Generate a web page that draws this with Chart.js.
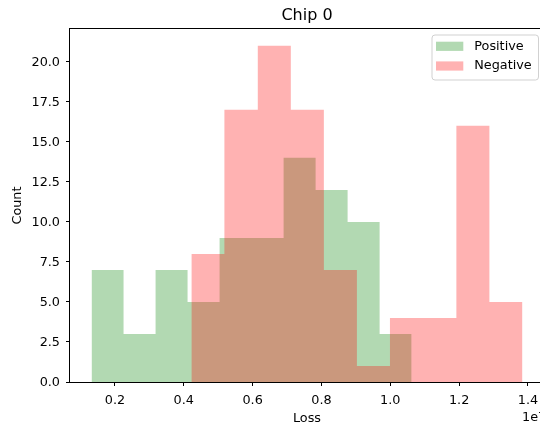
<!DOCTYPE html>
<html>
<head>
<meta charset="utf-8">
<script src="https://cdn.jsdelivr.net/npm/chart.js@4/dist/chart.umd.min.js"></script>
<style>
  html, body { margin: 0; padding: 0; background: #fff; overflow: hidden; width: 540px; height: 426px; }
  #wrap { position: absolute; left: 0; top: 0; width: 560px; height: 426px; }
</style>
</head>
<body>
<div id="wrap"><canvas id="c" width="560" height="426"></canvas></div>
<script>
// ---- data (values in units of 1e7) ----
const chartTitle = 'Chip 0';
const xLabel = 'Loss';
const yLabel = 'Count';
const xOffsetText = '1e7';
const seriesNames = ['Positive', 'Negative'];

const posEdges = [0.132, 0.225, 0.318, 0.411, 0.504, 0.597, 0.690, 0.783, 0.876, 0.969, 1.062];
const posCounts = [7, 3, 7, 5, 9, 9, 14, 12, 10, 3];

const negEdges = [0.422, 0.518, 0.615, 0.711, 0.807, 0.903, 0.999, 1.095, 1.192, 1.288, 1.384];
const negCounts = [8, 17, 21, 17, 7, 1, 4, 4, 16, 5];

const xMin = 0.0694, xMax = 1.4466;
const yMax = 22.05;
const xTickStep = 0.2;
const yTickStep = 2.5;

// histogram outline points: each bin holds its count until the next edge
function histPoints(edges, counts) {
  const pts = counts.map((c, i) => ({ x: edges[i], y: c }));
  pts.push({ x: edges[edges.length - 1], y: counts[counts.length - 1] });
  return pts;
}

const FONT = 'DejaVu Sans';
Chart.defaults.font.family = FONT;
Chart.defaults.color = '#000';

const framePlugin = {
  id: 'mplFrame',
  afterDraw(chart) {
    const { ctx, chartArea: a } = chart;
    ctx.save();
    // spines
    ctx.strokeStyle = '#000';
    ctx.lineWidth = 1;
    ctx.strokeRect(a.left - 0.5, a.top - 0.5, a.right - a.left + 1, a.bottom - a.top + 1);
    // title
    ctx.fillStyle = '#000';
    ctx.font = '16px "' + FONT + '"';
    ctx.textAlign = 'center';
    ctx.textBaseline = 'alphabetic';
    ctx.fillText(chartTitle, (a.left + a.right) / 2, 19.5);
    // offset text
    ctx.font = '12.8px "' + FONT + '"';
    ctx.textAlign = 'left';
    ctx.textBaseline = 'middle';
    ctx.fillText(xOffsetText, 522, 417.5);
    // legend (upper right, inside axes)
    const bx = 432, by = 35, bw = 106.5, bh = 45, r = 3;
    ctx.beginPath();
    ctx.moveTo(bx + r, by);
    ctx.lineTo(bx + bw - r, by);
    ctx.arcTo(bx + bw, by, bx + bw, by + r, r);
    ctx.lineTo(bx + bw, by + bh - r);
    ctx.arcTo(bx + bw, by + bh, bx + bw - r, by + bh, r);
    ctx.lineTo(bx + r, by + bh);
    ctx.arcTo(bx, by + bh, bx, by + bh - r, r);
    ctx.lineTo(bx, by + r);
    ctx.arcTo(bx, by, bx + r, by, r);
    ctx.closePath();
    ctx.fillStyle = 'rgba(255,255,255,0.8)';
    ctx.fill();
    ctx.strokeStyle = 'rgba(204,204,204,0.9)';
    ctx.lineWidth = 1;
    ctx.stroke();
    const rows = [46.3, 66];
    chart.data.datasets.forEach((ds, i) => {
      const cy = rows[i];
      ctx.fillStyle = ds.backgroundColor;
      ctx.fillRect(436, cy - 4.6, 27.3, 9.2);
      ctx.fillStyle = '#000';
      ctx.font = '12.8px "' + FONT + '"';
      ctx.textAlign = 'left';
      ctx.textBaseline = 'middle';
      ctx.fillText(ds.label, 474.3, cy);
    });
    ctx.restore();
  }
};

new Chart(document.getElementById('c'), {
  type: 'line',
  data: {
    datasets: [
      {
        label: seriesNames[0],
        data: histPoints(posEdges, posCounts),
        stepped: true,
        fill: 'origin',
        backgroundColor: 'rgba(0,128,0,0.3)',
        borderColor: 'rgba(0,0,0,0)',
        borderWidth: 0,
        pointRadius: 0,
        order: 1
      },
      {
        label: seriesNames[1],
        data: histPoints(negEdges, negCounts),
        stepped: true,
        fill: 'origin',
        backgroundColor: 'rgba(255,0,0,0.3)',
        borderColor: 'rgba(0,0,0,0)',
        borderWidth: 0,
        pointRadius: 0,
        order: 0
      }
    ]
  },
  options: {
    responsive: false,
    animation: false,
    events: [],
    layout: { padding: { left: 0, top: 29, right: 16, bottom: 0 } },
    plugins: {
      legend: { display: false },
      tooltip: { enabled: false },
      title: { display: false }
    },
    scales: {
      x: {
        type: 'linear',
        min: xMin,
        max: xMax,
        border: { display: false },
        grid: { drawOnChartArea: false, drawTicks: true, tickLength: 4, color: '#000', tickWidth: 1 },
        ticks: {
          stepSize: xTickStep,
          includeBounds: false,
          padding: 7,
          font: { size: 12.8 },
          color: '#000',
          maxRotation: 0,
          autoSkip: false,
          callback: v => Number(v).toFixed(1)
        },
        title: { display: true, text: xLabel, font: { size: 12.8 }, color: '#000', padding: { top: 0, bottom: 0 } },
        afterFit: s => { s.height = 44; }
      },
      y: {
        type: 'linear',
        min: 0,
        max: yMax,
        border: { display: false },
        grid: { drawOnChartArea: false, drawTicks: true, tickLength: 4, color: '#000', tickWidth: 1 },
        ticks: {
          stepSize: yTickStep,
          includeBounds: false,
          padding: 6,
          labelOffset: 1,
          font: { size: 12.8 },
          color: '#000',
          callback: v => Number(v).toFixed(1)
        },
        title: { display: true, text: yLabel, font: { size: 12.8 }, color: '#000', padding: { top: 10, bottom: 0 } },
        afterFit: s => { s.width = 70; }
      }
    }
  },
  plugins: [framePlugin]
});
</script>
</body>
</html>
